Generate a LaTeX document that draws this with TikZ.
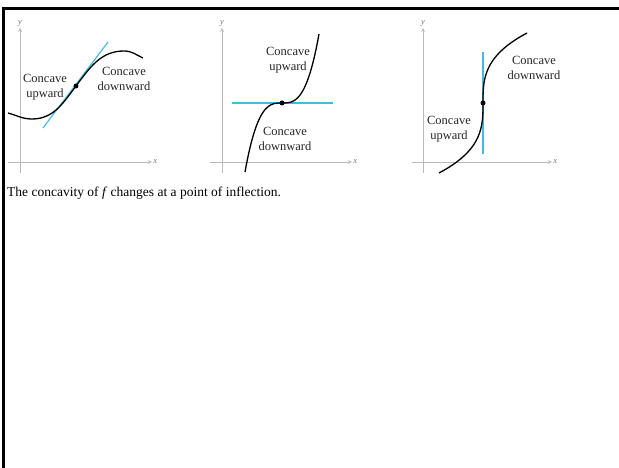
\documentclass[tikz,border=0pt]{standalone}
\usepackage{fontspec}
\setmainfont{Liberation Serif}
\definecolor{tanblue}{RGB}{70,185,225}

\begin{document}
\begin{tikzpicture}[x=1pt,y=1pt,
  axis/.style={help lines, line width=0.7pt, color=gray!55, ->, >=stealth},
  curve/.style={line width=1.3pt},
  tangent/.style={tanblue, line width=1.2pt},
  lbl/.style={align=center, inner sep=0pt, text=black!85, font=\fontsize{12.5}{15}\selectfont},
  axlbl/.style={inner sep=1pt, text=gray!90!black, font=\fontsize{8.5}{9}\selectfont\itshape}]
\useasboundingbox (0,0) rectangle (619,468);
\draw [line width=2.5pt] (3.5,0) |- (619,459.5);

% concave up, then down
\draw [axis] (20,295) -- (20,440) node [axlbl, above] (y1) {y};
\draw [axis] (8,306) -- (152,306) node [axlbl, right] (x1) {x};
\draw [tangent] (43,340) -- (108,426);
\draw [curve] (8,355) to[out=-15,in=180] (32,349) to[out=0,in=233] (76,382)
  to[out=53,in=180] (124,417) to[out=0,in=155] (143,410);
\fill (76,382) circle (2.5);
\node [lbl] (up1) at (45,381) {Concave\\upward};
\node [lbl] (down1) at (124,389) {Concave\\downward};

% horizontal tangent
\draw [axis] (222,295) -- (222,440) node [axlbl, above] (y2) {y};
\draw [axis] (210,306) -- (352,306) node [axlbl, right] (x2) {x};
\draw [tangent] (232,365) -- (333,365);
\draw [curve, domain=245:319, samples=60] plot (\x, {365+69*((\x-282)/37)*((\x-282)/37)*((\x-282)/37)});
\fill (282,365) circle (2.5);
\node [lbl] (up2) at (288,408) {Concave\\upward};
\node [lbl] (down2) at (285,329) {Concave\\downward};

% vertical tangent
\draw [axis] (423,295) -- (423,440) node [axlbl, above] (y3) {y};
\draw [axis] (412,306) -- (552,306) node [axlbl, right] (x3) {x};
\draw [tangent] (483,314) -- (483,416);
\draw [curve, domain=295:435, samples=60] plot ({483+44*((\x-365)/70)*((\x-365)/70)*((\x-365)/70)}, \x);
\fill (483,365) circle (2.5);
\node [lbl] (down3) at (534,400) {Concave\\downward};
\node [lbl] (up3) at (449,339) {Concave\\upward};

\node [anchor=base west, inner sep=0pt, font=\fontsize{13.5}{15}\selectfont] (cap) at (7,271)
  {The concavity of \textit{f} changes at a point of inflection.};
\end{tikzpicture}
\end{document}
